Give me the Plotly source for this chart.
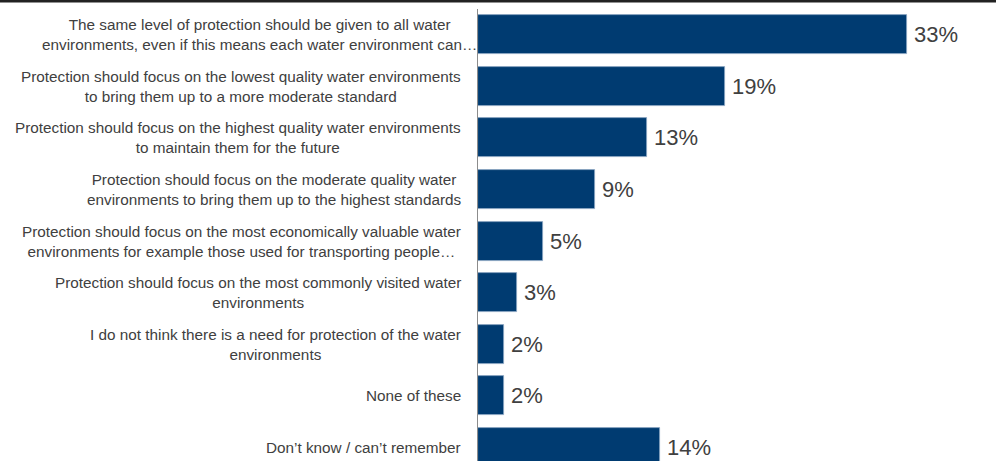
import plotly.graph_objects as go

# Survey responses: preferred approach to protecting water environments
labels = [
    "The same level of protection should be given to all water<br>environments, even if this means each water environment can…",
    "Protection should focus on the lowest quality water environments<br>to bring them up to a more moderate standard",
    "Protection should focus on the highest quality water environments<br>to maintain them for the future",
    "Protection should focus on the moderate quality water<br>environments to bring them up to the highest standards",
    "Protection should focus on the most economically valuable water<br>environments for example those used for transporting people…",
    "Protection should focus on the most commonly visited water<br>environments",
    "I do not think there is a need for protection of the water<br>environments",
    "None of these",
    "Don’t know / can’t remember",
]
shares = [33, 19, 13, 9, 5, 3, 2, 2, 14]

BAR = "#003B71"
TEXT = "#404040"
FONT = "Liberation Sans, Arial, sans-serif"

W, H = 996, 461
AXIS_X = 478      # left edge of the bar area
PLOT_TOP = 9      # gap above the bar area
X_LEFT = AXIS_X / W
Y_TOP = (H - PLOT_TOP) / H

fig = go.Figure(
    go.Bar(
        x=shares,
        y=labels,
        orientation="h",
        width=0.756,
        marker=dict(color=BAR, line=dict(color="#8FA8C6", width=0.75)),
        hoverinfo="skip",
    )
)

annotations = []
for i, (lab, v) in enumerate(zip(labels, shares)):
    # category text to the left of the axis, lines centred within the block
    annotations.append(dict(
        xref="paper", yref="y", x=X_LEFT, y=lab,
        text=lab, showarrow=False, xanchor="right", yanchor="middle",
        align="center", xshift=1 if i == 0 else -15,
        font=dict(family=FONT, size=15.3, color=TEXT),
    ))
    # value label just past the bar end
    annotations.append(dict(
        xref="x", yref="y", x=v, y=lab,
        text=f"{v}%", showarrow=False, xanchor="left", yanchor="middle",
        xshift=5, font=dict(family=FONT, size=22, color=TEXT),
    ))

fig.update_layout(
    width=W, height=H,
    margin=dict(l=0, r=0, t=0, b=0),
    paper_bgcolor="white", plot_bgcolor="white",
    showlegend=False,
    bargap=0,
    xaxis=dict(domain=[X_LEFT, 1], range=[0, (W - AXIS_X) / 13],
               visible=False, fixedrange=True),
    yaxis=dict(
        domain=[0, Y_TOP],
        type="category",
        categoryorder="array", categoryarray=labels,
        range=[8.26, -0.494],
        showticklabels=False, ticks="",
        showgrid=False, zeroline=False,
        showline=True, linecolor="#8C8C8C", linewidth=1,
        fixedrange=True,
    ),
    annotations=annotations,
)

# dark rule along the top edge of the page
fig.add_shape(type="line", xref="paper", yref="paper", layer="above",
              x0=0, x1=1, y0=(H - 1.25) / H, y1=(H - 1.25) / H,
              line=dict(color="#222222", width=2.5))

fig.write_html("out.html")
